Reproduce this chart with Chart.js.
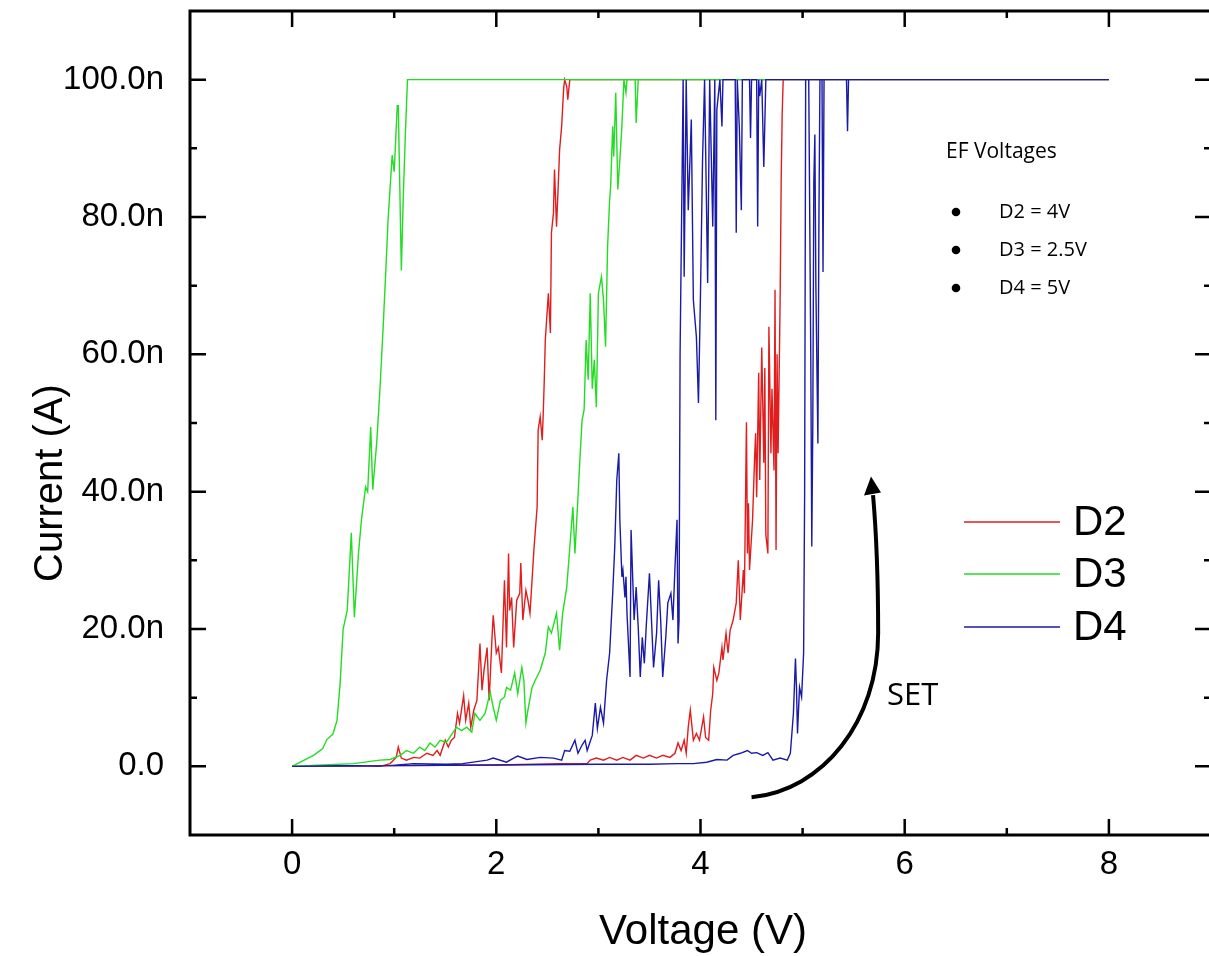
<!DOCTYPE html>
<html>
<head>
<meta charset="utf-8">
<script src="https://cdn.jsdelivr.net/npm/chart.js@4.4.0/dist/chart.umd.min.js"></script>
<style>
  html, body { margin: 0; padding: 0; background: #fff; overflow: hidden; }
  #myChart { display: block; }
</style>
</head>
<body>
<canvas id="myChart" width="1216" height="956"></canvas>
<script>
// [voltage (V), current (nA)], two sweeps per device
var d2Sweep1 = [[0,0],[0.6,0.1],[0.86,0],[0.96,0.4],[1.02,1.3],[1.04,2.8],[1.07,1.2],[1.12,0.9],[1.19,1.3],[1.25,1.2],[1.32,1.9],[1.38,1.6],[1.42,2.3],[1.45,1.6],[1.5,3.8],[1.53,2.8],[1.56,3.8],[1.59,4.2],[1.62,7.7],[1.64,6.3],[1.68,10.3],[1.7,6.7],[1.73,9.2],[1.75,5.7],[1.78,8.2],[1.81,9.6],[1.84,17.9],[1.86,11.1],[1.88,14],[1.91,17.3],[1.93,9.6],[1.96,19.4],[1.97,22],[2.0,16.5],[2.02,17.3],[2.05,13.6],[2.08,27.1],[2.1,17.3],[2.12,31],[2.13,22.7],[2.15,24.6],[2.17,17.3],[2.2,24.2],[2.23,25.2],[2.24,29.6],[2.26,21.3],[2.29,25.6],[2.31,24.2],[2.33,22.3],[2.35,27.1],[2.37,31.9],[2.4,37.8],[2.41,49],[2.43,50.9],[2.45,47.5],[2.46,51.5],[2.47,56.3],[2.48,62.1],[2.51,68.9],[2.53,63.1],[2.54,77.7],[2.56,80.6],[2.57,86.9],[2.59,78.6],[2.61,85.9],[2.62,89.8],[2.64,93.2],[2.66,98.8],[2.67,100],[2.69,99],[2.7,97.1],[2.72,100],[8,100]];
var d2Sweep2 = [[0,0],[1.0,0.1],[2.0,0.2],[2.62,0.4],[2.89,0.4],[2.92,0.9],[2.98,1.2],[3.05,0.9],[3.11,1.3],[3.18,0.9],[3.24,1.3],[3.31,0.9],[3.37,1.6],[3.44,1.2],[3.5,1.6],[3.57,1.2],[3.63,1.6],[3.7,1.3],[3.75,1.9],[3.78,3.4],[3.81,2.3],[3.84,3.8],[3.86,1.9],[3.88,5.7],[3.9,8.2],[3.93,3.8],[3.96,4.8],[3.99,3.8],[4.03,7.2],[4.05,4.2],[4.08,3.8],[4.1,8.2],[4.12,10.6],[4.13,14.4],[4.16,12.5],[4.18,13.6],[4.21,17.3],[4.22,15.5],[4.25,19.4],[4.27,16.5],[4.29,19.8],[4.32,21.3],[4.35,23.8],[4.37,30],[4.39,21.3],[4.42,28.6],[4.43,25.2],[4.45,50.1],[4.46,31],[4.47,38.3],[4.48,28.6],[4.51,35.9],[4.53,45],[4.54,48.5],[4.55,39.2],[4.57,57.3],[4.58,41.7],[4.6,61],[4.62,44.2],[4.63,58],[4.64,33.7],[4.66,31],[4.67,64],[4.69,45.6],[4.7,55],[4.72,43.1],[4.73,69.4],[4.74,31.5],[4.75,60],[4.76,45.6],[4.78,68],[4.79,85],[4.8,95],[4.81,100],[8,100]];

var d3Sweep1 = [[0,0],[0.08,0.6],[0.21,1.6],[0.3,2.6],[0.34,3.9],[0.4,4.7],[0.44,6.7],[0.47,12],[0.5,20],[0.54,22.7],[0.58,34],[0.61,21.7],[0.65,31],[0.68,36],[0.72,40.7],[0.74,40],[0.77,49.4],[0.79,40.3],[0.83,47.4],[0.86,54.8],[0.89,63.4],[0.92,72.9],[0.94,79.6],[0.98,89],[1.0,86.6],[1.03,96.2],[1.04,96.2],[1.07,72.2],[1.09,83.5],[1.11,92.3],[1.13,100],[8,100]];
var d3Sweep2 = [[0,0],[0.3,0.2],[0.6,0.4],[0.86,0.9],[0.96,1.0],[1.06,1.6],[1.12,2.3],[1.19,1.9],[1.25,2.8],[1.3,2.3],[1.35,3.4],[1.4,2.8],[1.45,3.8],[1.51,3.5],[1.57,4.8],[1.61,5.7],[1.66,5.2],[1.71,5.7],[1.76,5.0],[1.79,7.7],[1.84,6.7],[1.89,7.7],[1.94,10.8],[1.97,8.6],[2.0,6.7],[2.04,9.6],[2.08,10.1],[2.1,11.5],[2.14,11.1],[2.18,13.6],[2.21,10.6],[2.25,14.4],[2.27,12.5],[2.29,6.3],[2.31,8.2],[2.35,11.5],[2.38,12.5],[2.43,14.0],[2.48,16.5],[2.51,20.3],[2.54,19.4],[2.59,22.3],[2.62,16.9],[2.65,22.3],[2.69,26.1],[2.72,31.9],[2.75,37.8],[2.77,31.0],[2.8,39.2],[2.82,45],[2.84,50.4],[2.86,51.9],[2.88,62.1],[2.9,56.3],[2.92,68.9],[2.94,55],[2.96,59.2],[2.98,52.3],[3.0,68.9],[3.03,71.3],[3.05,67.9],[3.07,61.1],[3.09,75.7],[3.11,82.5],[3.12,84.4],[3.14,93.2],[3.15,88.8],[3.17,98.1],[3.19,84],[3.21,88.3],[3.23,93.2],[3.25,100],[3.27,98.1],[3.28,100],[3.36,100],[3.37,93.7],[3.39,100],[8,100]];

var d4Sweep1 = [[0,0],[0.5,0.1],[0.86,0],[1.19,0.4],[1.51,0.3],[1.67,0.4],[1.91,0.9],[1.97,1.2],[2.1,0.6],[2.17,1.2],[2.21,1.5],[2.3,1.0],[2.43,1.3],[2.56,1.2],[2.64,0.9],[2.67,2.3],[2.72,2.2],[2.77,3.8],[2.8,1.9],[2.84,3.1],[2.87,3.8],[2.89,2.3],[2.94,4.5],[2.97,9.2],[2.99,5.5],[3.02,8.6],[3.05,6.3],[3.08,12.5],[3.11,16.5],[3.14,25.2],[3.16,31.9],[3.18,41.7],[3.2,45.6],[3.21,35.9],[3.23,27.6],[3.24,28.6],[3.26,24.6],[3.27,27.6],[3.28,22.3],[3.31,13],[3.32,34.4],[3.35,21.3],[3.37,26.1],[3.39,20.3],[3.41,13],[3.43,18.8],[3.45,15],[3.47,20.8],[3.5,28.1],[3.52,21.3],[3.54,14.4],[3.57,19.4],[3.59,27.1],[3.61,21.3],[3.63,13],[3.66,18.8],[3.68,23.8],[3.71,25.2],[3.73,21.3],[3.75,29],[3.77,35.9],[3.78,17.9],[3.79,21.3],[3.8,60],[3.83,100],[3.84,71.3],[3.86,100],[3.88,81],[3.91,94.2],[3.93,67.9],[3.96,62.5],[3.98,52.9],[4.0,68.9],[4.02,88.3],[4.04,100],[4.07,70.4],[4.09,100],[4.12,78.6],[4.14,100],[4.15,50.4],[4.16,95.6],[4.19,100],[4.21,93.2],[4.22,100],[4.34,100],[4.35,77.7],[4.36,100],[4.38,93.2],[4.4,81],[4.41,100],[4.48,100],[4.49,91.5],[4.5,100],[4.55,100],[4.56,78.6],[4.57,100],[4.58,97.6],[4.6,100],[4.62,87.3],[4.64,100],[8,100]];
var d4Sweep2 = [[0,0],[1.0,0.1],[2.0,0.2],[3.0,0.3],[3.5,0.3],[3.77,0.4],[3.93,0.4],[4.06,0.6],[4.16,1.0],[4.26,0.9],[4.32,1.6],[4.39,1.9],[4.46,2.3],[4.5,1.9],[4.55,2.0],[4.61,1.6],[4.66,2.0],[4.71,0.9],[4.78,1.2],[4.85,0.9],[4.88,1.9],[4.91,7.7],[4.93,15.7],[4.94,11.5],[4.95,4.8],[4.97,11.5],[4.99,10.1],[5.01,16.5],[5.02,40],[5.03,100],[5.06,100],[5.08,60],[5.09,32],[5.1,50],[5.11,85],[5.12,92],[5.13,70],[5.15,47],[5.16,80],[5.17,100],[5.19,100],[5.2,72],[5.21,100],[5.43,100],[5.44,92.5],[5.45,100],[8,100]];

var deviceNames = ['D2', 'D3', 'D4'];
var deviceColors = ['#e01e1e', '#22dd22', '#1a1aa8'];
var efLines = ['D2 = 4V', 'D3 = 2.5V', 'D4 = 5V'];

var xTicks = [0, 2, 4, 6, 8];
var yTicks = [0, 20, 40, 60, 80, 100];

function joinSweeps(a, b) {
  var pts = a.map(function(p) { return {x: p[0], y: p[1]}; });
  pts.push({x: a[a.length - 1][0], y: null});
  return pts.concat(b.map(function(p) { return {x: p[0], y: p[1]}; }));
}

var sweeps = [[d2Sweep1, d2Sweep2], [d3Sweep1, d3Sweep2], [d4Sweep1, d4Sweep2]];

var datasets = deviceNames.map(function(name, i) {
  return {
    label: name,
    data: joinSweeps(sweeps[i][0], sweeps[i][1]),
    borderColor: deviceColors[i],
    borderWidth: 1.4,
    pointRadius: 0,
    tension: 0,
    spanGaps: false,
    order: 2 - i
  };
});

var tickFont = { family: '"Liberation Sans", Arial, sans-serif', size: 33 };

function noPad(scale) {
  scale.paddingTop = 0;
  scale.paddingBottom = 0;
  scale.paddingLeft = 0;
  scale.paddingRight = 0;
}

// frame, inward ticks, titles, legend and notes
var extras = {
  id: 'extras',
  afterDraw: function(chart) {
    var ctx = chart.ctx, a = chart.chartArea;
    var xs = chart.scales.x, ys = chart.scales.y;
    ctx.save();
    ctx.strokeStyle = '#000';
    ctx.lineWidth = 3;
    ctx.strokeRect(a.left, a.top, a.right - a.left, a.bottom - a.top);

    ctx.lineWidth = 2.5;
    ctx.beginPath();
    xs.ticks.forEach(function(t) {
      if (t.value <= xs.min || t.value >= xs.max) return;
      var len = xTicks.indexOf(t.value) >= 0 ? 16 : 7;
      var px = xs.getPixelForValue(t.value);
      ctx.moveTo(px, a.bottom); ctx.lineTo(px, a.bottom - len);
      ctx.moveTo(px, a.top); ctx.lineTo(px, a.top + len);
    });
    ys.ticks.forEach(function(t) {
      if (t.value <= ys.min || t.value >= ys.max) return;
      var len = yTicks.indexOf(t.value) >= 0 ? 16 : 7;
      var py = ys.getPixelForValue(t.value);
      ctx.moveTo(a.left, py); ctx.lineTo(a.left + len, py);
      ctx.moveTo(a.right, py); ctx.lineTo(a.right - len, py);
    });
    ctx.stroke();

    // axis titles
    ctx.fillStyle = '#000';
    ctx.textAlign = 'center';
    ctx.textBaseline = 'alphabetic';
    ctx.font = '42px "Liberation Sans", Arial, sans-serif';
    ctx.fillText('Voltage (V)', 703, 944);
    ctx.save();
    ctx.translate(62, 483);
    ctx.rotate(-Math.PI / 2);
    ctx.font = '40px "Liberation Sans", Arial, sans-serif';
    ctx.fillText('Current (A)', 0, 0);
    ctx.restore();

    // legend
    var legY = [522, 574, 627];
    ctx.textAlign = 'left';
    ctx.textBaseline = 'middle';
    ctx.font = '42px "Liberation Sans", Arial, sans-serif';
    deviceNames.forEach(function(name, i) {
      ctx.strokeStyle = deviceColors[i];
      ctx.lineWidth = 1.5;
      ctx.beginPath();
      ctx.moveTo(964, legY[i]);
      ctx.lineTo(1060, legY[i]);
      ctx.stroke();
      ctx.fillText(name, 1073, legY[i] + 1);
    });

    // EF voltages note
    ctx.font = '21px "Open Sans", sans-serif';
    ctx.fillText('EF Voltages', 946, 152);
    ctx.font = '20px "Open Sans", sans-serif';
    var efY = [212, 250, 288];
    efLines.forEach(function(t, i) {
      ctx.beginPath();
      ctx.arc(956, efY[i], 4.3, 0, Math.PI * 2);
      ctx.fill();
      ctx.fillText(t, 999, efY[i]);
    });

    // SET arrow
    var p = function(vx, vy) { return [xs.getPixelForValue(vx), ys.getPixelForValue(vy)]; };
    var s = p(4.5, -4.5), c1 = p(5.2, -3.5), c2 = p(5.74, 6.5), m = p(5.74, 19.4), e = p(5.69, 39.5);
    ctx.strokeStyle = '#000';
    ctx.lineWidth = 4;
    ctx.beginPath();
    ctx.moveTo(s[0], s[1]);
    ctx.bezierCurveTo(c1[0], c1[1], c2[0], c2[1], m[0], m[1]);
    ctx.quadraticCurveTo(m[0], (m[1] + e[1]) / 2 - 10, e[0], e[1]);
    ctx.stroke();
    var tip = p(5.67, 42.2);
    ctx.beginPath();
    ctx.moveTo(tip[0], tip[1]);
    ctx.lineTo(tip[0] - 7, tip[1] + 19);
    ctx.lineTo(tip[0] + 10, tip[1] + 16);
    ctx.closePath();
    ctx.fill();
    ctx.font = '31px "Open Sans", sans-serif';
    ctx.fillText('SET', 887, 696);
    ctx.restore();
  }
};

var ctx = document.getElementById('myChart').getContext('2d');

var myChart = new Chart(ctx, {
  type: 'line',
  data: { datasets: datasets },
  options: {
    responsive: false,
    animation: false,
    layout: { padding: { top: 11, right: 5, left: 0, bottom: 0 } },
    plugins: { legend: { display: false }, tooltip: { enabled: false } },
    scales: {
      x: {
        type: 'linear',
        min: -1,
        max: 9,
        grid: { display: false },
        border: { display: false },
        ticks: {
          stepSize: 1,
          autoSkip: false,
          maxRotation: 0,
          padding: 2,
          color: '#000',
          font: tickFont,
          callback: function(v) { return xTicks.indexOf(v) >= 0 ? String(v) : ''; }
        },
        afterFit: function(scale) { scale.height = 121; noPad(scale); }
      },
      y: {
        type: 'linear',
        min: -10,
        max: 110,
        grid: { display: false },
        border: { display: false },
        ticks: {
          stepSize: 10,
          autoSkip: false,
          padding: 18,
          color: '#000',
          font: tickFont,
          callback: function(v) {
            if (yTicks.indexOf(v) < 0) return '';
            return v === 0 ? '0.0' : v.toFixed(1) + 'n';
          }
        },
        afterFit: function(scale) { scale.width = 190; noPad(scale); }
      }
    }
  },
  plugins: [extras]
});
</script>
</body>
</html>
